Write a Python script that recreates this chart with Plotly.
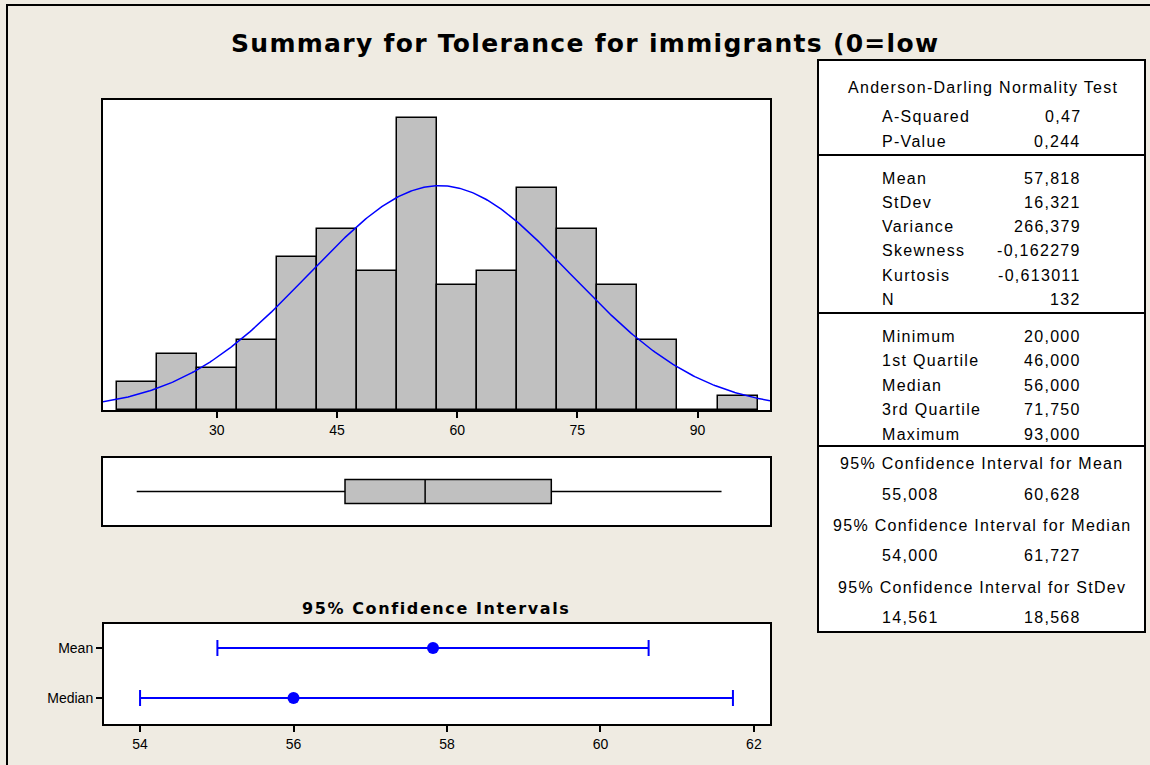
import numpy as np
import plotly.graph_objects as go

# Histogram data (bins of width 5)
bin_centers = [20, 25, 30, 35, 40, 45, 50, 55, 60, 65, 70, 75, 80, 85, 90, 95]
counts = [2, 4, 3, 5, 11, 13, 10, 21, 9, 10, 16, 13, 9, 5, 0, 1]
bin_width = 5

# Summary statistics
stat_mean = 57.818
stat_sd = 16.321
stat_n = 132
box_stats = {"min": 20.0, "q1": 46.0, "median": 56.0, "q3": 71.75, "max": 93.0}

# Confidence intervals
ci_names = ["Mean", "Median"]
ci_center = [57.818, 56.0]
ci_low = [55.008, 54.0]
ci_high = [60.628, 61.727]

# Table text
ad_labels = ["A-Squared", "P-Value"]
ad_values = ["0,47", "0,244"]
moment_labels = ["Mean", "StDev", "Variance", "Skewness", "Kurtosis", "N"]
moment_values = ["57,818", "16,321", "266,379", "-0,162279", "-0,613011", "132"]
quant_labels = ["Minimum", "1st Quartile", "Median", "3rd Quartile", "Maximum"]
quant_values = ["20,000", "46,000", "56,000", "71,750", "93,000"]
ci_titles = ["95% Confidence Interval for Mean",
             "95% Confidence Interval for Median",
             "95% Confidence Interval for StDev"]
ci_lo_txt = ["55,008", "54,000", "14,561"]
ci_hi_txt = ["60,628", "61,727", "18,568"]

W, H = 1150, 765
BG = "#EFEBE2"
FONT = "Liberation Sans, Arial, sans-serif"
BOLDFONT = "DejaVu Sans, Verdana, sans-serif"


def fx(x):
    return x / W


def fy(y):
    return 1 - y / H


def spaced(text, px):
    return '<span style="letter-spacing:%spx">%s</span>' % (px, text)


x_range = [15.79, 99.05]

fig = go.Figure()

# histogram bars
fig.add_trace(go.Bar(x=bin_centers, y=counts, width=bin_width,
                     marker=dict(color="#C0C0C0", line=dict(color="black", width=1.5)),
                     xaxis="x", yaxis="y", showlegend=False, hoverinfo="x+y"))

# fitted normal curve
xs = np.linspace(x_range[0], x_range[1], 400)
ys = stat_n * bin_width * np.exp(-0.5 * ((xs - stat_mean) / stat_sd) ** 2) / (stat_sd * np.sqrt(2 * np.pi))
fig.add_trace(go.Scatter(x=xs, y=ys, mode="lines", line=dict(color="#0000FF", width=1.5),
                         xaxis="x", yaxis="y", showlegend=False, hoverinfo="skip"))

# boxplot
fig.add_trace(go.Box(y=[0], q1=[box_stats["q1"]], median=[box_stats["median"]], q3=[box_stats["q3"]],
                     lowerfence=[box_stats["min"]], upperfence=[box_stats["max"]],
                     orientation="h", width=1, whiskerwidth=0,
                     fillcolor="#C0C0C0", line=dict(color="black", width=1.5),
                     xaxis="x2", yaxis="y2", showlegend=False))

# confidence intervals
ci_y = [1, 0]
fig.add_trace(go.Scatter(
    x=ci_center, y=ci_y, mode="markers",
    marker=dict(color="#0000FF", size=12),
    error_x=dict(type="data", symmetric=False,
                 array=[h - c for h, c in zip(ci_high, ci_center)],
                 arrayminus=[c - l for l, c in zip(ci_low, ci_center)],
                 color="#0000FF", thickness=2, width=8),
    xaxis="x3", yaxis="y3", showlegend=False))

axis_common = dict(showline=True, linecolor="black", linewidth=2, mirror=True,
                   showgrid=False, zeroline=False)

fig.update_layout(
    width=W, height=H,
    margin=dict(l=0, r=0, t=0, b=0),
    paper_bgcolor=BG, plot_bgcolor="white",
    font=dict(family=FONT, color="black", size=14),
    bargap=0,
    xaxis=dict(domain=[fx(103), fx(770)], range=x_range, anchor="y",
               tickvals=[30, 45, 60, 75, 90], ticks="outside", ticklen=6, tickwidth=1.5,
               tickcolor="black", **axis_common),
    yaxis=dict(domain=[fy(410), fy(100)], range=[0, 22.3], anchor="x",
               showticklabels=False, ticks="", **axis_common),
    xaxis2=dict(domain=[fx(103), fx(770)], range=x_range, anchor="y2",
                showticklabels=False, ticks="", **axis_common),
    yaxis2=dict(domain=[fy(525), fy(458)], range=[-1.4, 1.4], anchor="x2",
                showticklabels=False, ticks="", **axis_common),
    xaxis3=dict(domain=[fx(104), fx(770)], range=[53.53, 62.21], anchor="y3",
                tickvals=[54, 56, 58, 60, 62], ticks="outside", ticklen=6, tickwidth=1.5,
                tickcolor="black", **axis_common),
    yaxis3=dict(domain=[fy(724), fy(624)], range=[-0.52, 1.48], anchor="x3",
                tickvals=ci_y, ticktext=ci_names, ticks="outside", ticklen=6, tickwidth=1.5,
                tickcolor="black", **axis_common),
)

shapes = []
annotations = []

# outer frame
shapes.append(dict(type="rect", xref="paper", yref="paper", x0=fx(7), y0=fy(800),
                   x1=fx(1200), y1=fy(5), line=dict(color="black", width=2)))

# titles
annotations.append(dict(text="<b>" + spaced("Summary for Tolerance for immigrants (0=low", 1.3) + "</b>",
                        x=fx(585), y=fy(43), xref="paper", yref="paper",
                        xanchor="center", yanchor="middle", showarrow=False,
                        font=dict(size=25, family=BOLDFONT)))
annotations.append(dict(text="<b>" + spaced("95% Confidence Intervals", 1.6) + "</b>",
                        x=fx(436), y=fy(608), xref="paper", yref="paper",
                        xanchor="center", yanchor="middle", showarrow=False,
                        font=dict(size=16, family=BOLDFONT)))

# stats table
shapes.append(dict(type="rect", xref="paper", yref="paper", x0=fx(818), y0=fy(632),
                   x1=fx(1145), y1=fy(60), fillcolor="white", line=dict(color="black", width=2),
                   layer="below"))
for ly in [155, 313, 446]:
    shapes.append(dict(type="line", xref="paper", yref="paper", x0=fx(818), x1=fx(1145),
                       y0=fy(ly), y1=fy(ly), line=dict(color="black", width=2)))

tfont = dict(size=16, family=FONT)


def cell(text, x, y, anchor):
    annotations.append(dict(text=spaced(text, 1.3), x=fx(x), y=fy(y), xref="paper", yref="paper",
                            xanchor=anchor, yanchor="middle", showarrow=False, font=tfont))


cell("Anderson-Darling Normality Test", 983, 87, "center")
for i, (lab, val) in enumerate(zip(ad_labels, ad_values)):
    cell(lab, 880, 116 + 25 * i, "left")
    cell(val, 1083, 116 + 25 * i, "right")
for i, (lab, val) in enumerate(zip(moment_labels, moment_values)):
    cell(lab, 880, 178 + 24.3 * i, "left")
    cell(val, 1083, 178 + 24.3 * i, "right")
for i, (lab, val) in enumerate(zip(quant_labels, quant_values)):
    cell(lab, 880, 336 + 24.5 * i, "left")
    cell(val, 1083, 336 + 24.5 * i, "right")
for i, (t, lo, hi) in enumerate(zip(ci_titles, ci_lo_txt, ci_hi_txt)):
    cell(t, 982, 464 + 61.5 * i, "center")
    cell(lo, 880, 494 + 61.5 * i, "left")
    cell(hi, 1083, 494 + 61.5 * i, "right")

fig.update_layout(shapes=shapes, annotations=annotations)

# the page body has a default margin; remove it so the figure sits at the window origin
fig.write_html("out.html", config={"displayModeBar": False},
               post_script="document.body.style.margin='0px';")
